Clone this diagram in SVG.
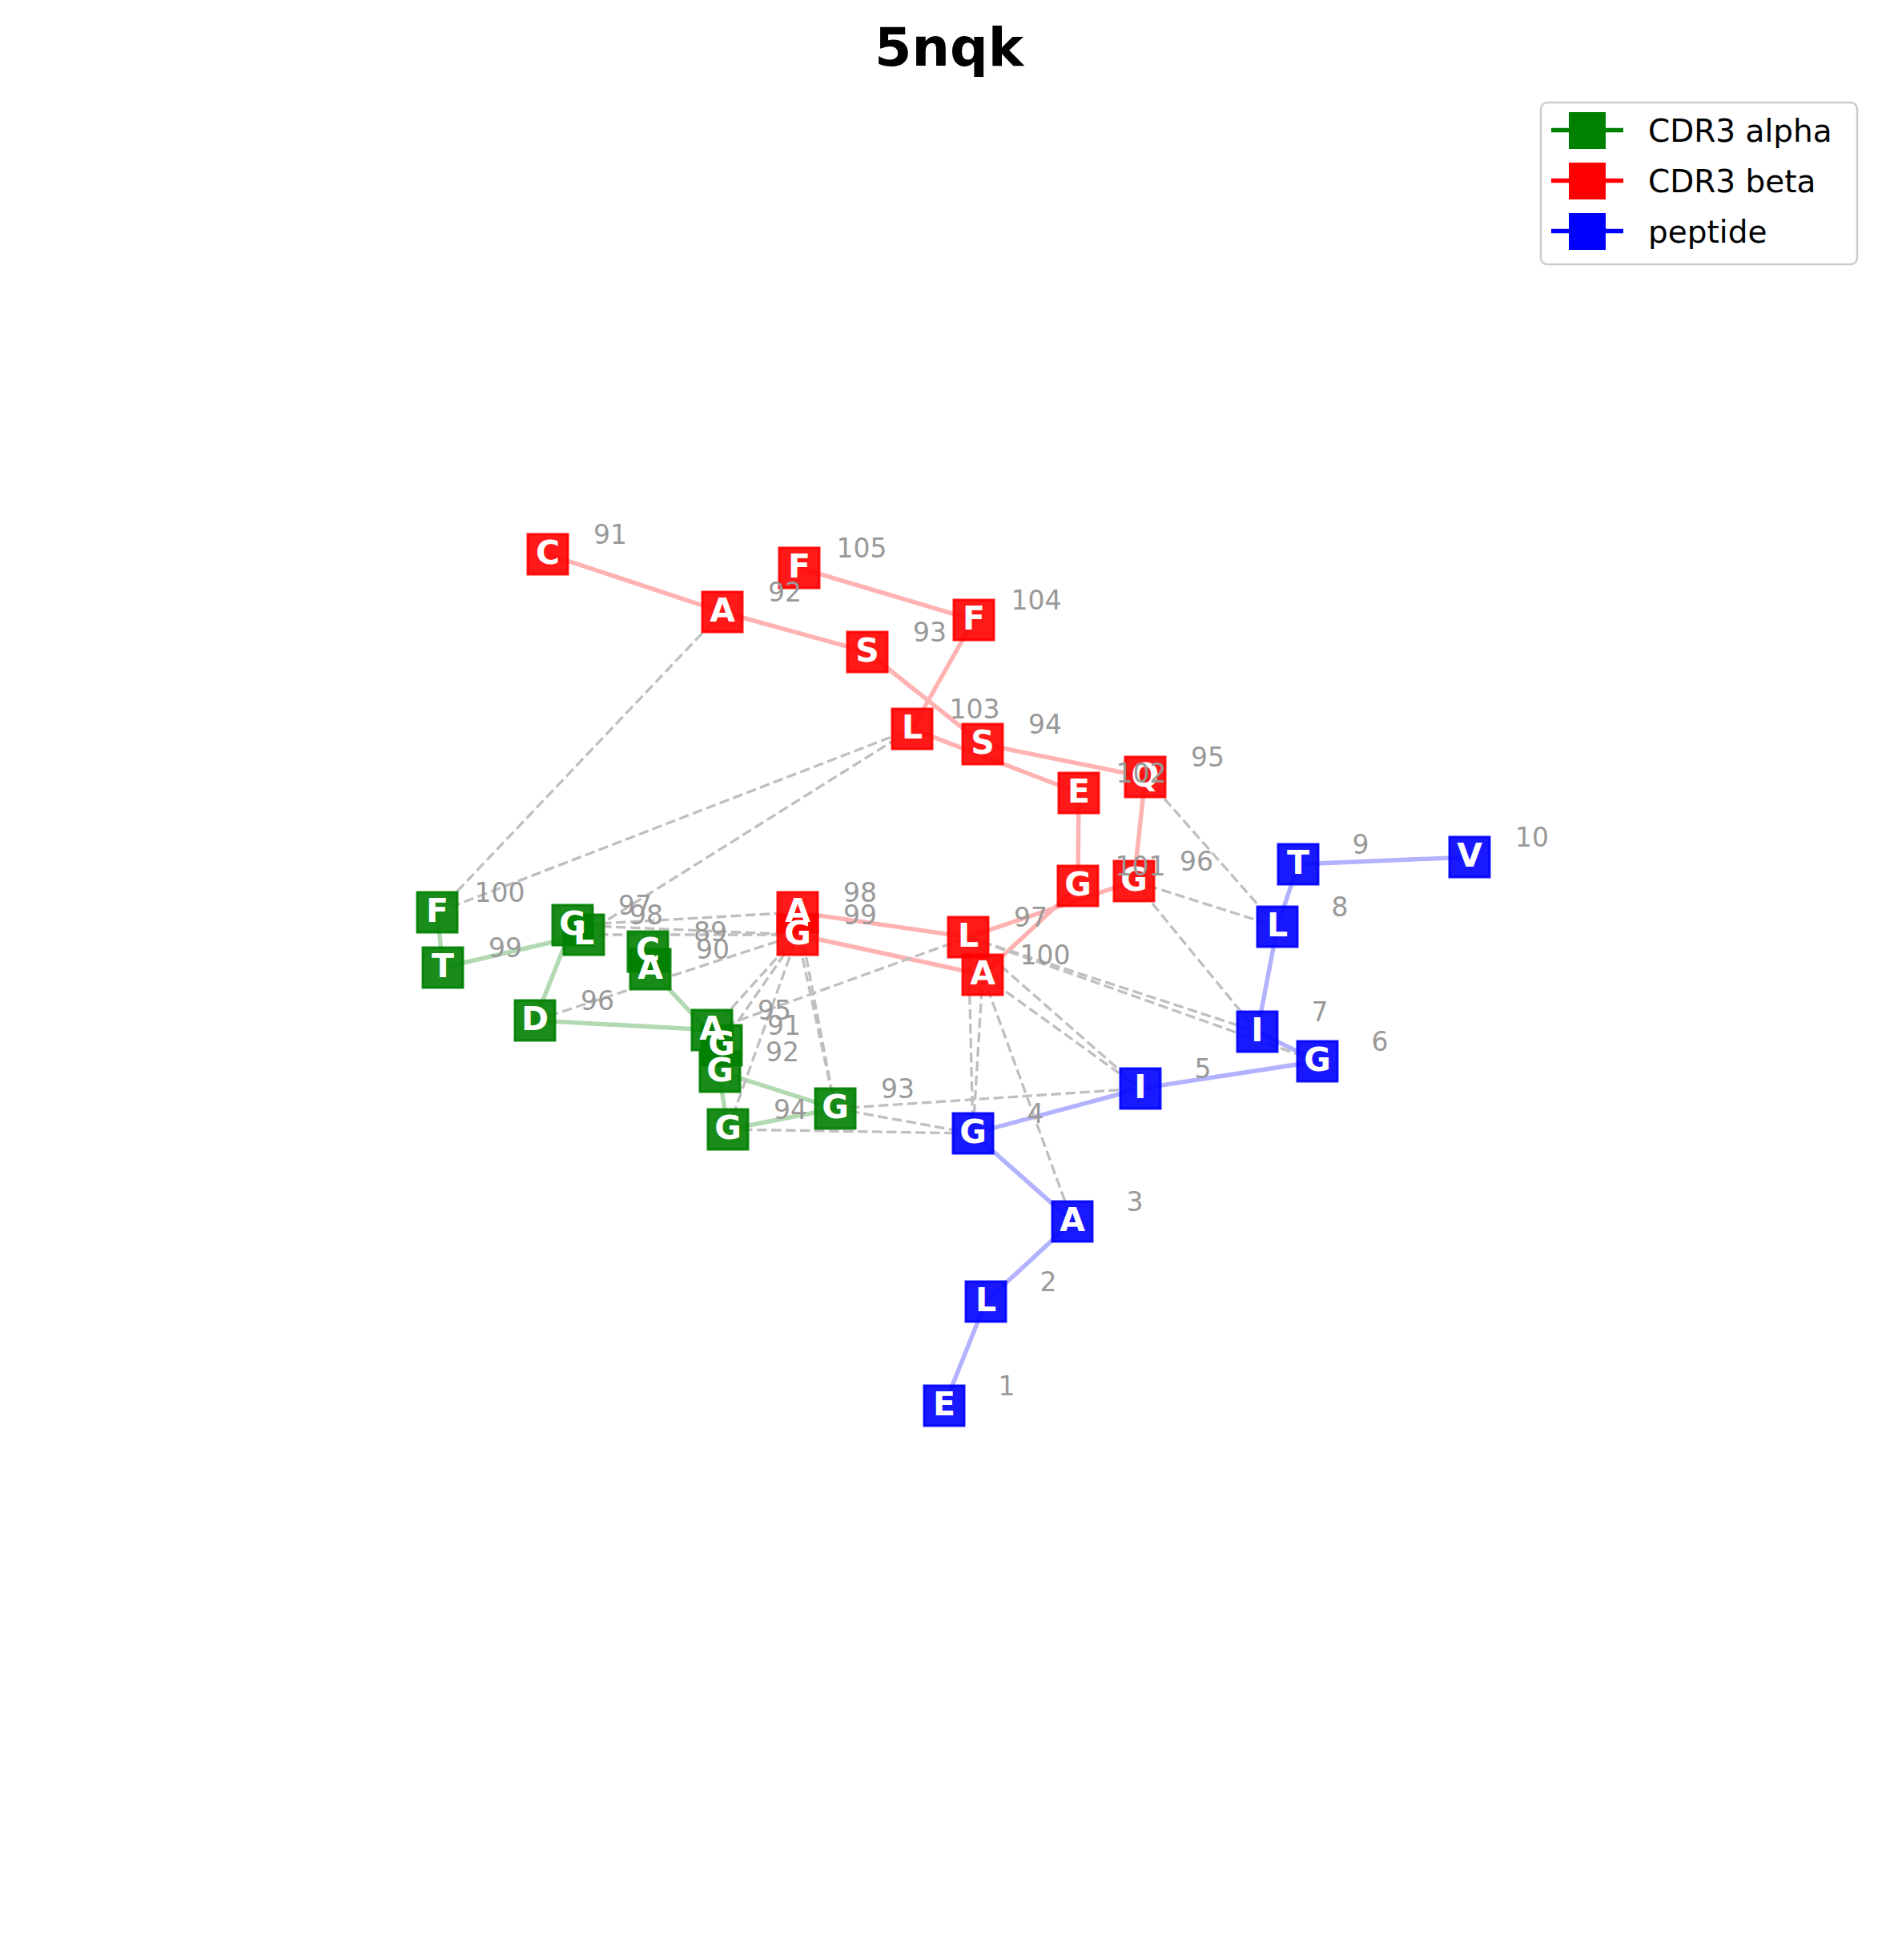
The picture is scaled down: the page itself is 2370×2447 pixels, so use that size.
<svg xmlns="http://www.w3.org/2000/svg" width="2370" height="2447" viewBox="0 0 2370 2447">
<style>
.ch{stroke-width:5.5;fill:none;stroke-linecap:butt}
.a{stroke:#b2d9b2}.b{stroke:#ffb2b2}.p{stroke:#b2b2ff}
.ct{stroke:#bfbfbf;stroke-width:3.3;stroke-dasharray:12.5 5.5;fill:none}
.node rect{stroke-width:3;fill-opacity:0.9;stroke-opacity:0.9}
.alpha rect{fill:#008000;stroke:#008000}
.beta rect{fill:#ff0000;stroke:#ff0000}
.pep rect{fill:#0000ff;stroke:#0000ff}
.let text{font-family:"DejaVu Sans",sans-serif;font-weight:bold;font-size:41px;fill:#fff;text-anchor:middle}
.lbl{font-family:"DejaVu Sans",sans-serif;font-size:33px;fill:#999;text-anchor:middle}
.leg{font-family:"DejaVu Sans",sans-serif;font-size:39px;fill:#000}
</style>
<rect width="2370" height="2447" fill="#fff"/>
<text x="1185" y="82" font-family="DejaVu Sans,sans-serif" font-weight="bold" font-size="66.7" text-anchor="middle">5nqk</text>

<g id="edges">
<g id="chain-edges">
<polyline class="ch a" points="809,1188 812,1210 901,1305 899,1338 1043,1384 909,1410 889,1286 668,1274 715,1155 729,1167 553,1208 546,1139"/>
<polyline class="ch b" points="684,692 902,764 1083,814 1227,929 1430,970 1416,1100 1209,1170 996,1139 996,1167 1227,1217 1346,1106 1347,990 1139,910 1216,774 998,709"/>
<polyline class="ch p" points="1179,1755 1231,1625 1339,1525 1215,1415 1424,1359 1645,1325 1570,1288 1595,1157 1621,1079 1835,1070"/>
</g>
<g id="contacts">
<line class="ct" x1="546" y1="1139" x2="902" y2="764"/>
<line class="ct" x1="546" y1="1139" x2="1139" y2="910"/>
<line class="ct" x1="729" y1="1167" x2="1139" y2="910"/>
<line class="ct" x1="715" y1="1155" x2="996" y2="1139"/>
<line class="ct" x1="715" y1="1155" x2="996" y2="1167"/>
<line class="ct" x1="729" y1="1167" x2="996" y2="1167"/>
<line class="ct" x1="668" y1="1274" x2="996" y2="1167"/>
<line class="ct" x1="889" y1="1286" x2="996" y2="1167"/>
<line class="ct" x1="901" y1="1305" x2="996" y2="1167"/>
<line class="ct" x1="909" y1="1410" x2="996" y2="1167"/>
<line class="ct" x1="1043" y1="1384" x2="996" y2="1139"/>
<line class="ct" x1="1043" y1="1384" x2="996" y2="1167"/>
<line class="ct" x1="889" y1="1286" x2="1209" y2="1170"/>
<line class="ct" x1="1043" y1="1384" x2="1424" y2="1359"/>
<line class="ct" x1="1043" y1="1384" x2="1215" y2="1415"/>
<line class="ct" x1="909" y1="1410" x2="1215" y2="1415"/>
<line class="ct" x1="1209" y1="1170" x2="1215" y2="1415"/>
<line class="ct" x1="1227" y1="1217" x2="1215" y2="1415"/>
<line class="ct" x1="1227" y1="1217" x2="1339" y2="1525"/>
<line class="ct" x1="1209" y1="1170" x2="1424" y2="1359"/>
<line class="ct" x1="1227" y1="1217" x2="1424" y2="1359"/>
<line class="ct" x1="1209" y1="1170" x2="1570" y2="1288"/>
<line class="ct" x1="1209" y1="1170" x2="1645" y2="1325"/>
<line class="ct" x1="1416" y1="1100" x2="1570" y2="1288"/>
<line class="ct" x1="1416" y1="1100" x2="1595" y2="1157"/>
<line class="ct" x1="1430" y1="970" x2="1595" y2="1157"/>
</g>
</g>

<g id="nodes">
<g id="a89" class="node alpha"><rect x="784" y="1163" width="50" height="50"/></g>
<g id="a90" class="node alpha"><rect x="787" y="1185" width="50" height="50"/></g>
<g id="a91" class="node alpha"><rect x="876" y="1280" width="50" height="50"/></g>
<g id="a92" class="node alpha"><rect x="874" y="1313" width="50" height="50"/></g>
<g id="a93" class="node alpha"><rect x="1018" y="1359" width="50" height="50"/></g>
<g id="a94" class="node alpha"><rect x="884" y="1385" width="50" height="50"/></g>
<g id="a95" class="node alpha"><rect x="864" y="1261" width="50" height="50"/></g>
<g id="a96" class="node alpha"><rect x="643" y="1249" width="50" height="50"/></g>
<g id="a97" class="node alpha"><rect x="690" y="1130" width="50" height="50"/></g>
<g id="a98" class="node alpha"><rect x="704" y="1142" width="50" height="50"/></g>
<g id="a99" class="node alpha"><rect x="528" y="1183" width="50" height="50"/></g>
<g id="a100" class="node alpha"><rect x="521" y="1114" width="50" height="50"/></g>

<g id="b91" class="node beta"><rect x="659" y="667" width="50" height="50"/></g>
<g id="b92" class="node beta"><rect x="877" y="739" width="50" height="50"/></g>
<g id="b93" class="node beta"><rect x="1058" y="789" width="50" height="50"/></g>
<g id="b94" class="node beta"><rect x="1202" y="904" width="50" height="50"/></g>
<g id="b95" class="node beta"><rect x="1405" y="945" width="50" height="50"/></g>
<g id="b96" class="node beta"><rect x="1391" y="1075" width="50" height="50"/></g>
<g id="b97" class="node beta"><rect x="1184" y="1145" width="50" height="50"/></g>
<g id="b98" class="node beta"><rect x="971" y="1114" width="50" height="50"/></g>
<g id="b99" class="node beta"><rect x="971" y="1142" width="50" height="50"/></g>
<g id="b100" class="node beta"><rect x="1202" y="1192" width="50" height="50"/></g>
<g id="b101" class="node beta"><rect x="1321" y="1081" width="50" height="50"/></g>
<g id="b102" class="node beta"><rect x="1322" y="965" width="50" height="50"/></g>
<g id="b103" class="node beta"><rect x="1114" y="885" width="50" height="50"/></g>
<g id="b104" class="node beta"><rect x="1191" y="749" width="50" height="50"/></g>
<g id="b105" class="node beta"><rect x="973" y="684" width="50" height="50"/></g>

<g id="p1" class="node pep"><rect x="1154" y="1730" width="50" height="50"/></g>
<g id="p2" class="node pep"><rect x="1206" y="1600" width="50" height="50"/></g>
<g id="p3" class="node pep"><rect x="1314" y="1500" width="50" height="50"/></g>
<g id="p4" class="node pep"><rect x="1190" y="1390" width="50" height="50"/></g>
<g id="p5" class="node pep"><rect x="1399" y="1334" width="50" height="50"/></g>
<g id="p6" class="node pep"><rect x="1620" y="1300" width="50" height="50"/></g>
<g id="p7" class="node pep"><rect x="1545" y="1263" width="50" height="50"/></g>
<g id="p8" class="node pep"><rect x="1570" y="1132" width="50" height="50"/></g>
<g id="p9" class="node pep"><rect x="1596" y="1054" width="50" height="50"/></g>
<g id="p10" class="node pep"><rect x="1810" y="1045" width="50" height="50"/></g>
</g>

<g id="node-letters" class="let">
<text id="a89-t" x="809" y="1200">C</text>
<text id="a90-t" x="812" y="1222">A</text>
<text id="a91-t" x="901" y="1317">G</text>
<text id="a92-t" x="899" y="1350">G</text>
<text id="a93-t" x="1043" y="1396">G</text>
<text id="a94-t" x="909" y="1422">G</text>
<text id="a95-t" x="889" y="1298">A</text>
<text id="a96-t" x="668" y="1286">D</text>
<text id="a97-t" x="715" y="1167">G</text>
<text id="a98-t" x="729" y="1179">L</text>
<text id="a99-t" x="553" y="1220">T</text>
<text id="a100-t" x="546" y="1151">F</text>
<text id="b91-t" x="684" y="704">C</text>
<text id="b92-t" x="902" y="776">A</text>
<text id="b93-t" x="1083" y="826">S</text>
<text id="b94-t" x="1227" y="941">S</text>
<text id="b95-t" x="1430" y="982">Q</text>
<text id="b96-t" x="1416" y="1112">G</text>
<text id="b97-t" x="1209" y="1182">L</text>
<text id="b98-t" x="996" y="1151">A</text>
<text id="b99-t" x="996" y="1179">G</text>
<text id="b100-t" x="1227" y="1229">A</text>
<text id="b101-t" x="1346" y="1118">G</text>
<text id="b102-t" x="1347" y="1002">E</text>
<text id="b103-t" x="1139" y="922">L</text>
<text id="b104-t" x="1216" y="786">F</text>
<text id="b105-t" x="998" y="721">F</text>
<text id="p1-t" x="1179" y="1767">E</text>
<text id="p2-t" x="1231" y="1637">L</text>
<text id="p3-t" x="1339" y="1537">A</text>
<text id="p4-t" x="1215" y="1427">G</text>
<text id="p5-t" x="1424" y="1371">I</text>
<text id="p6-t" x="1645" y="1337">G</text>
<text id="p7-t" x="1570" y="1300">I</text>
<text id="p8-t" x="1595" y="1169">L</text>
<text id="p9-t" x="1621" y="1091">T</text>
<text id="p10-t" x="1835" y="1082">V</text>
</g>

<g id="labels">
<text class="lbl" x="887" y="1175">89</text>
<text class="lbl" x="890" y="1197">90</text>
<text class="lbl" x="979" y="1292">91</text>
<text class="lbl" x="977" y="1325">92</text>
<text class="lbl" x="1121" y="1371">93</text>
<text class="lbl" x="987" y="1397">94</text>
<text class="lbl" x="967" y="1273">95</text>
<text class="lbl" x="746" y="1261">96</text>
<text class="lbl" x="793" y="1142">97</text>
<text class="lbl" x="807" y="1154">98</text>
<text class="lbl" x="631" y="1195">99</text>
<text class="lbl" x="624" y="1126">100</text>

<text class="lbl" x="762" y="679">91</text>
<text class="lbl" x="980" y="751">92</text>
<text class="lbl" x="1161" y="801">93</text>
<text class="lbl" x="1305" y="916">94</text>
<text class="lbl" x="1508" y="957">95</text>
<text class="lbl" x="1494" y="1087">96</text>
<text class="lbl" x="1287" y="1157">97</text>
<text class="lbl" x="1074" y="1126">98</text>
<text class="lbl" x="1074" y="1154">99</text>
<text class="lbl" x="1305" y="1204">100</text>
<text class="lbl" x="1424" y="1093">101</text>
<text class="lbl" x="1425" y="977">102</text>
<text class="lbl" x="1217" y="897">103</text>
<text class="lbl" x="1294" y="761">104</text>
<text class="lbl" x="1076" y="696">105</text>

<text class="lbl" x="1257" y="1742">1</text>
<text class="lbl" x="1309" y="1612">2</text>
<text class="lbl" x="1417" y="1512">3</text>
<text class="lbl" x="1293" y="1402">4</text>
<text class="lbl" x="1502" y="1346">5</text>
<text class="lbl" x="1723" y="1312">6</text>
<text class="lbl" x="1648" y="1275">7</text>
<text class="lbl" x="1673" y="1144">8</text>
<text class="lbl" x="1699" y="1066">9</text>
<text class="lbl" x="1913" y="1057">10</text>
</g>

<g id="legend">
<rect x="1924" y="128" width="395" height="202" rx="8" fill="#fff" fill-opacity="0.8" stroke="#cccccc" stroke-width="2.5"/>
<line x1="1937" y1="162.5" x2="2027" y2="162.5" stroke="#008000" stroke-width="5.5"/>
<rect x="1959" y="140" width="46" height="46" fill="#008000"/>
<text class="leg" x="2058" y="177">CDR3 alpha</text>
<line x1="1937" y1="225.5" x2="2027" y2="225.5" stroke="#ff0000" stroke-width="5.5"/>
<rect x="1959" y="203" width="46" height="46" fill="#ff0000"/>
<text class="leg" x="2058" y="240">CDR3 beta</text>
<line x1="1937" y1="288.5" x2="2027" y2="288.5" stroke="#0000ff" stroke-width="5.5"/>
<rect x="1959" y="266" width="46" height="46" fill="#0000ff"/>
<text class="leg" x="2058" y="303">peptide</text>
</g>
</svg>
